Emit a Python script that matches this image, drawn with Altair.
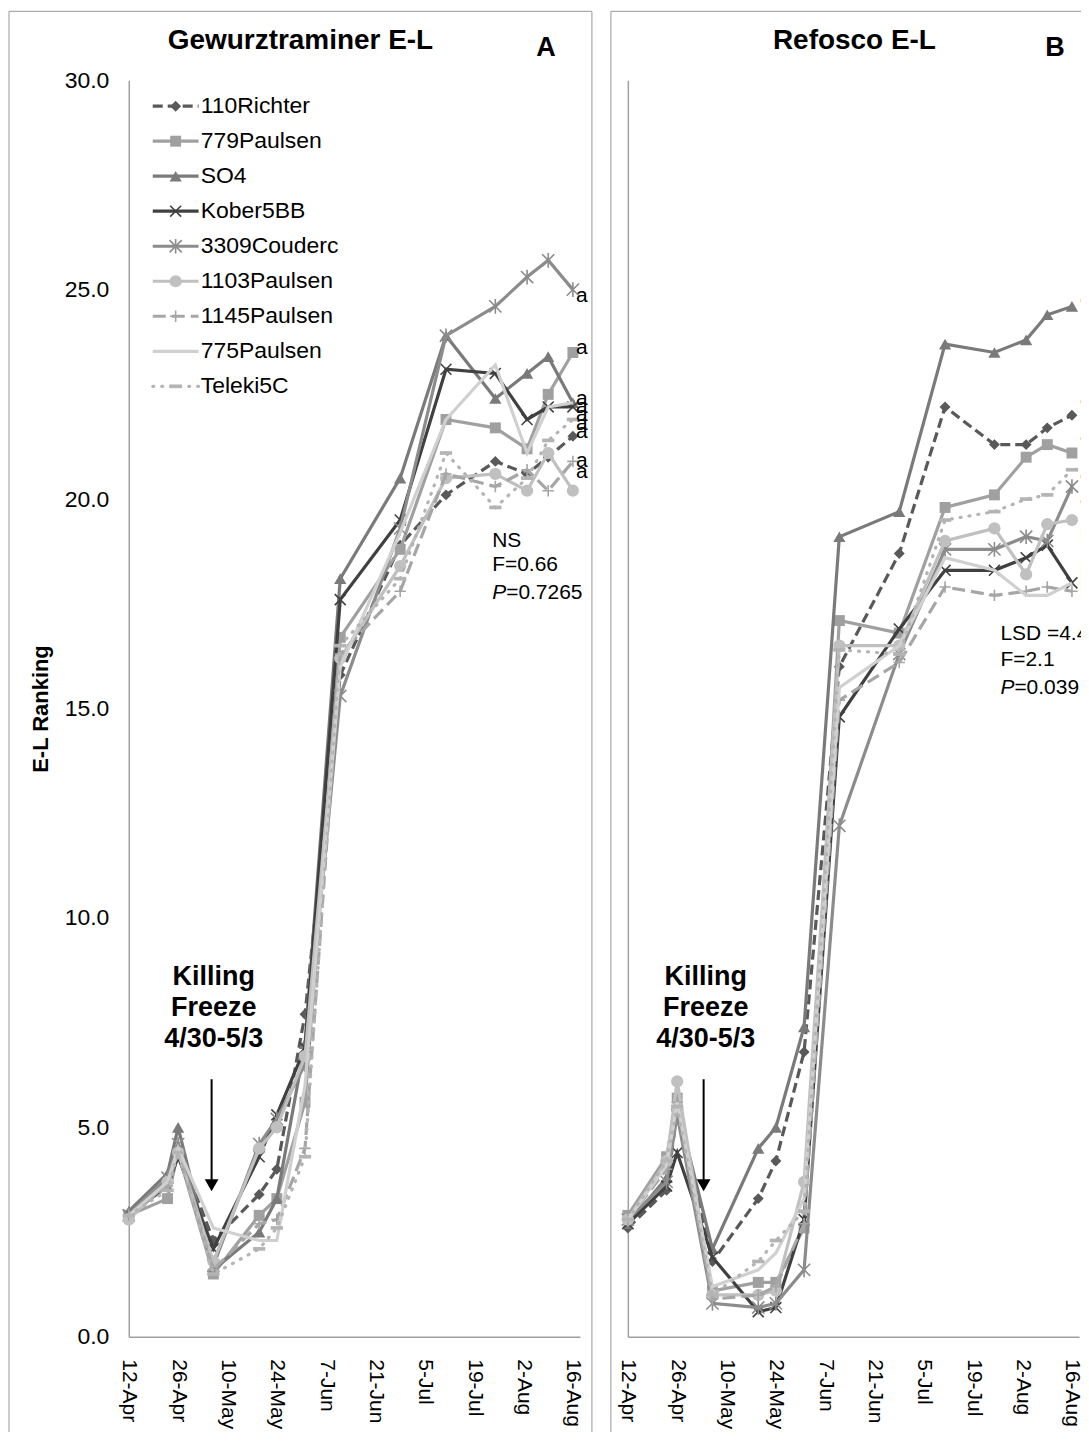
import altair as alt
import pandas as pd

FONT = "Liberation Sans"
START = pd.Timestamp("2013-04-12")

# ---------------- data ----------------
SAMPLE_DATES = ["2013-04-12", "2013-04-23", "2013-04-26", "2013-05-06", "2013-05-19",
                "2013-05-24", "2013-06-01", "2013-06-11", "2013-06-28", "2013-07-11",
                "2013-07-25", "2013-08-03", "2013-08-09", "2013-08-16"]
TICK_DATES = [(4, 12), (4, 26), (5, 10), (5, 24), (6, 7), (6, 21), (7, 5), (7, 19), (8, 2), (8, 16)]
Y_TICKS = [0, 5, 10, 15, 20, 25, 30]
SERIES = ["110Richter", "779Paulsen", "SO4", "Kober5BB", "3309Couderc",
          "1103Paulsen", "1145Paulsen", "775Paulsen", "Teleki5C"]

# Panel A: Gewurztraminer
A_110Richter = [2.9, 3.7, 4.5, 2.3, 3.4, 4.0, 7.7, 15.8, 18.9, 20.1, 20.9, 20.6, 21.0, 21.5]
A_779Paulsen = [2.9, 3.3, 4.4, 1.5, 2.9, 3.3, 5.6, 16.7, 18.8, 21.9, 21.7, 21.2, 22.5, 23.5]
A_SO4 = [3.0, 3.9, 5.0, 1.6, 2.5, 3.3, 7.0, 18.1, 20.5, 23.9, 22.4, 23.0, 23.4, 22.3]
A_Kober5BB = [2.9, 3.6, 4.3, 2.1, 4.3, 5.3, 6.9, 17.6, 19.5, 23.1, 23.0, 21.9, 22.2, 22.2]
A_3309Couderc = [2.9, 3.8, 4.6, 1.7, 4.6, 5.2, 6.5, 15.3, 19.3, 23.9, 24.6, 25.3, 25.7, 25.0]
A_1103Paulsen = [2.8, 3.7, 4.4, 1.8, 4.5, 5.0, 6.7, 16.2, 18.4, 20.5, 20.6, 20.2, 21.1, 20.2]
A_1145Paulsen = [2.9, 3.6, 4.4, 1.6, 2.7, 2.8, 4.5, 16.3, 17.8, 20.6, 20.3, 20.7, 20.2, 20.9]
A_775Paulsen = [2.9, 3.7, 4.5, 2.6, 2.3, 2.3, 6.0, 16.0, 19.2, 21.9, 23.2, 21.1, 22.2, 22.3]
A_Teleki5C = [2.9, 3.5, 4.4, 1.5, 2.1, 2.6, 4.3, 16.5, 18.1, 21.1, 19.8, 20.5, 21.4, 21.9]

# Panel B: Refosco
B_110Richter = [2.6, 3.5, 5.4, 1.8, 3.3, 4.2, 6.8, 16.0, 18.7, 22.2, 21.3, 21.3, 21.7, 22.0]
B_779Paulsen = [2.9, 4.3, 5.7, 1.1, 1.3, 1.3, 2.6, 17.1, 16.8, 19.8, 20.1, 21.0, 21.3, 21.1]
B_SO4 = [2.7, 3.8, 5.5, 2.1, 4.5, 5.0, 7.4, 19.1, 19.7, 23.7, 23.5, 23.8, 24.4, 24.6]
B_Kober5BB = [2.7, 3.6, 4.4, 1.9, 0.6, 0.7, 2.8, 14.8, 16.9, 18.3, 18.3, 18.6, 18.9, 18.0]
B_3309Couderc = [2.8, 3.7, 5.3, 0.8, 0.7, 0.8, 1.6, 12.2, 16.3, 18.8, 18.8, 19.1, 19.0, 20.3]
B_1103Paulsen = [2.8, 4.2, 6.1, 1.0, 1.0, 1.1, 3.7, 16.5, 16.5, 19.0, 19.3, 18.2, 19.4, 19.5]
B_1145Paulsen = [2.8, 4.0, 5.6, 0.9, 1.0, 1.2, 2.7, 15.2, 16.1, 17.9, 17.7, 17.8, 17.9, 17.8]
B_775Paulsen = [2.8, 4.1, 5.6, 1.2, 1.6, 2.0, 3.3, 15.5, 16.5, 18.6, 18.3, 17.7, 17.7, 18.0]
B_Teleki5C = [2.8, 4.2, 5.5, 1.0, 1.8, 2.3, 3.0, 16.4, 16.3, 19.5, 19.7, 20.0, 20.1, 20.7]

A_LETTERS = ["a", "a", "a", "a", "a", "a", "a", "a", "a"]
A_LETTER_Y = [24.85, 23.6, 22.4, 22.2, 22.0, 21.8, 21.6, 20.9, 20.65]
B_LETTERS = ["a", "ab", "ab", "ab", "ab", "b", "b", "b", "b"]
B_LETTER_Y = [24.8, 22.4, 21.5, 20.6, 20.0, 19.1, 18.3, 18.1, 17.8]

A_STATS = ["NS", "F=0.66", "P=0.7265"]
A_STATS_Y = [18.99, 18.42, 17.75]
B_STATS = ["LSD =4.4", "F=2.1", "P=0.039"]
B_STATS_Y = [16.77, 16.15, 15.49]

FREEZE_TEXT = ["Killing", "Freeze", "4/30-5/3"]
FREEZE_Y = [8.58, 7.86, 7.12]

A_VALUES = dict(zip(SERIES, [A_110Richter, A_779Paulsen, A_SO4, A_Kober5BB, A_3309Couderc,
                             A_1103Paulsen, A_1145Paulsen, A_775Paulsen, A_Teleki5C]))
B_VALUES = dict(zip(SERIES, [B_110Richter, B_779Paulsen, B_SO4, B_Kober5BB, B_3309Couderc,
                             B_1103Paulsen, B_1145Paulsen, B_775Paulsen, B_Teleki5C]))

# ---------------- styles ----------------
X_PATH = "M-1,-1L1,1M-1,1L1,-1"
AST_PATH = "M-1,-1L1,1M-1,1L1,-1M0,-1.2L0,1.2"
PLUS_PATH = "M-1,0L1,0M0,-1L0,1"
DASH_PATH = "M-1,-0.3L1,-0.3L1,0.3L-1,0.3Z"

STYLE = {
    "110Richter": dict(color="#595959", dash=[10, 5], shape="diamond", filled=True, size=120),
    "779Paulsen": dict(color="#a0a0a0", shape="square", filled=True, size=120),
    "SO4": dict(color="#7a7a7a", shape="triangle-up", filled=True, size=150),
    "Kober5BB": dict(color="#404040", shape=X_PATH, filled=False, size=120),
    "3309Couderc": dict(color="#8c8c8c", shape=AST_PATH, filled=False, size=150),
    "1103Paulsen": dict(color="#c0c0c0", shape="circle", filled=True, size=150),
    "1145Paulsen": dict(color="#a6a6a6", dash=[13, 6], shape=PLUS_PATH, filled=False, size=130),
    "775Paulsen": dict(color="#d0d0d0"),
    "Teleki5C": dict(color="#b4b4b4", dash=[1, 8], cap="round", shape=DASH_PATH, filled=True, size=150),
}

PLOT_W, PLOT_H = 452, 1259
AXIS_GRAY = "#a0a0a0"


def dt(m, d):
    return alt.DateTime(year=2013, month=m, date=d)


def day(x):
    return START + pd.Timedelta(days=x)


X_SCALE = alt.Scale(domain=[dt(4, 12), dt(8, 18)])
Y_SCALE = alt.Scale(domain=[0, 30], nice=False)

X_AXIS = alt.Axis(values=[dt(m, d) for m, d in TICK_DATES], format="%-d-%b", labelAngle=90,
                  labelAlign="left", labelBaseline="middle", labelPadding=22, labelFontSize=21,
                  labelColor="#000", labelFont=FONT, ticks=False, grid=False,
                  domainColor=AXIS_GRAY, domainWidth=1.5, title=None, labelOverlap=False,
                  labelFlush=False)
Y_AXIS_A = alt.Axis(values=Y_TICKS, format=".1f", ticks=False, labelPadding=20, labelFontSize=23,
                    labelColor="#000", labelFont=FONT, grid=False, domainColor=AXIS_GRAY,
                    domainWidth=1.5, title="E-L Ranking", titleFontSize=22, titleFontWeight="bold",
                    titleColor="#000", titleFont=FONT, titlePadding=12)
Y_AXIS_B = alt.Axis(values=Y_TICKS, labels=False, ticks=False, grid=False, domainColor=AXIS_GRAY,
                    domainWidth=1.5, title=None)

ONE = alt.Data(values=[{"k": 0}])


def text_at(txt, px, py, size, weight="normal"):
    return alt.Chart(ONE).mark_text(text=txt, font=FONT, fontSize=size, fontWeight=weight,
                                    align="center", baseline="middle", color="#000").encode(
        x=alt.value(px), y=alt.value(py))


def panel(values, y_axis, title, title_x, tag, tag_x, border_x1, border_x2,
          letters, letter_y, letter_day, stats, stats_y, stats_day, freeze_day, legend):

    def xe(field="date"):
        return alt.X(f"{field}:T", scale=X_SCALE, axis=X_AXIS)

    def ye(field="value"):
        return alt.Y(f"{field}:Q", scale=Y_SCALE, axis=y_axis)

    layers = []
    layers.append(alt.Chart(ONE).mark_rect(fillOpacity=0, stroke="#9a9a9a", strokeWidth=1).encode(
        x=alt.value(border_x1), x2=alt.value(border_x2), y=alt.value(-69), y2=alt.value(1391)))
    for s in SERIES:
        st = STYLE[s]
        df = pd.DataFrame({"date": pd.to_datetime(SAMPLE_DATES), "value": values[s]})
        lk = dict(color=st["color"], strokeWidth=3.2)
        if "dash" in st:
            lk["strokeDash"] = st["dash"]
        if "cap" in st:
            lk["strokeCap"] = st["cap"]
        layers.append(alt.Chart(df).mark_line(**lk).encode(x=xe(), y=ye()))
        if "shape" in st:
            pk = dict(shape=st["shape"], filled=st["filled"], size=st["size"], opacity=1,
                      color=st["color"], strokeWidth=1.6)
            layers.append(alt.Chart(df).mark_point(**pk).encode(x=xe(), y=ye()))

    # significance letters
    ldf = pd.DataFrame({"date": [day(letter_day)] * len(letters), "value": letter_y, "label": letters})
    layers.append(alt.Chart(ldf).mark_text(font=FONT, fontSize=21, align="left", baseline="middle",
                                           color="#000").encode(x=xe(), y=ye(), text="label:N"))

    # statistics text (P italic)
    plain = [t for t in stats if not t.startswith("P=")]
    plain_y = [y for t, y in zip(stats, stats_y) if not t.startswith("P=")]
    sdf = pd.DataFrame({"date": [day(stats_day)] * len(plain), "value": plain_y, "label": plain})
    layers.append(alt.Chart(sdf).mark_text(font=FONT, fontSize=21, align="left", baseline="middle",
                                           color="#000").encode(x=xe(), y=ye(), text="label:N"))
    prow = [(t, y) for t, y in zip(stats, stats_y) if t.startswith("P=")]
    pdf = pd.DataFrame({"date": [day(stats_day)] * len(prow), "value": [y for _, y in prow],
                        "p": ["P" for _ in prow], "rest": [t[1:] for t, _ in prow]})
    layers.append(alt.Chart(pdf).mark_text(font=FONT, fontSize=21, fontStyle="italic", align="left",
                                           baseline="middle", color="#000").encode(
        x=xe(), y=ye(), text="p:N"))
    layers.append(alt.Chart(pdf).mark_text(font=FONT, fontSize=21, align="left", baseline="middle",
                                           dx=14, color="#000").encode(x=xe(), y=ye(), text="rest:N"))

    # killing freeze annotation
    fdf = pd.DataFrame({"date": [day(freeze_day)] * 3, "value": FREEZE_Y, "label": FREEZE_TEXT})
    layers.append(alt.Chart(fdf).mark_text(font=FONT, fontSize=27, fontWeight="bold", align="center",
                                           baseline="middle", color="#000").encode(
        x=xe(), y=ye(), text="label:N"))
    adf = pd.DataFrame({"date": [day(freeze_day - 0.6)], "value": [6.15], "value2": [3.75]})
    layers.append(alt.Chart(adf).mark_rule(color="#000", strokeWidth=2).encode(
        x=xe(), y=ye(), y2="value2:Q"))
    hdf = pd.DataFrame({"date": [day(freeze_day - 0.6)], "value": [3.62]})
    layers.append(alt.Chart(hdf).mark_point(shape="triangle-down", filled=True, size=190, opacity=1,
                                            color="#000").encode(x=xe(), y=ye()))

    # titles
    layers.append(text_at(title, title_x, -39, 28, "bold"))
    layers.append(text_at(tag, tag_x, -32, 27, "bold"))

    if legend:
        ys = [29.38 - i * 0.836 for i in range(len(SERIES))]
        for s, yv in zip(SERIES, ys):
            st = STYLE[s]
            rdf = pd.DataFrame({"date": [day(6.8)], "date2": [day(19.8)], "value": [yv]})
            rk = dict(color=st["color"], strokeWidth=3.2)
            if "dash" in st:
                rk["strokeDash"] = st["dash"]
            if "cap" in st:
                rk["strokeCap"] = st["cap"]
            layers.append(alt.Chart(rdf).mark_rule(**rk).encode(x=xe(), x2="date2:T", y=ye()))
            if "shape" in st:
                mdf = pd.DataFrame({"date": [day(13.3)], "value": [yv]})
                layers.append(alt.Chart(mdf).mark_point(shape=st["shape"], filled=st["filled"],
                                                        size=st["size"], opacity=1, color=st["color"],
                                                        strokeWidth=1.6).encode(x=xe(), y=ye()))
        tdf = pd.DataFrame({"date": [day(20.4)] * len(SERIES), "value": ys, "label": SERIES})
        layers.append(alt.Chart(tdf).mark_text(font=FONT, fontSize=23, align="left", baseline="middle",
                                               color="#000").encode(x=xe(), y=ye(), text="label:N"))

    return alt.layer(*layers).properties(width=PLOT_W, height=PLOT_H)


panel_a = panel(A_VALUES, Y_AXIS_A, "Gewurztraminer E-L", 172, "A", 418, -120, 464,
                A_LETTERS, A_LETTER_Y, 126.9, A_STATS, A_STATS_Y, 103.1, 24.1, True)
panel_b = panel(B_VALUES, Y_AXIS_B, "Refosco E-L", 227, "B", 428, -17, 493,
                B_LETTERS, B_LETTER_Y, 128.3, B_STATS, B_STATS_Y, 105.7, 22.1, False)

chart = alt.hconcat(panel_a, panel_b, spacing=17).properties(
    padding={"left": 0, "top": 1, "right": -40, "bottom": -39}
).configure(font=FONT).configure_view(strokeWidth=0)

chart.save("out.html", embed_options={"renderer": "svg", "actions": False})
